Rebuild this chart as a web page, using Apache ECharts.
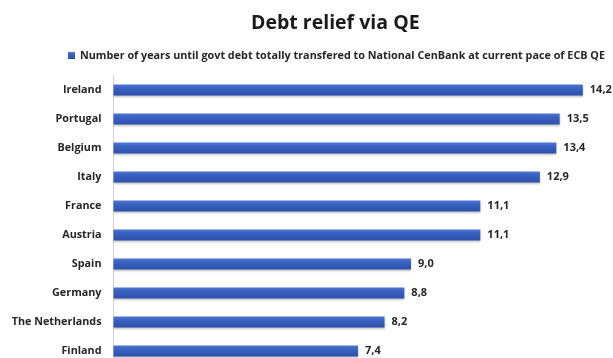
<!DOCTYPE html>
<html>
<head>
<meta charset="utf-8">
<script src="https://cdn.jsdelivr.net/npm/echarts@6/dist/echarts.min.js"></script>
<style>html,body{margin:0;padding:0;background:#fff;overflow:hidden;width:613px;height:358px}#c{width:613px;height:372px}</style>
</head>
<body>
<div id="c"></div>
<script>
const categories = ["Ireland","Portugal","Belgium","Italy","France","Austria","Spain","Germany","The Netherlands","Finland"];
const values = [14.2,13.5,13.4,12.9,11.1,11.1,9.0,8.8,8.2,7.4];
const seriesName = "Number of years until govt debt totally transfered to National CenBank at current pace of ECB QE";
const titleText = "Debt relief via QE";

const FONT = "Open Sans";
const chart = echarts.init(document.getElementById('c'), null, {renderer:'canvas'});
chart.setOption({
  animation:false,
  backgroundColor:'#fff',
  title:{text:titleText,left:246,top:8,
    textStyle:{fontFamily:FONT,fontWeight:'bold',fontSize:19.5,color:'#1a1a1a'}},
  legend:{data:[seriesName],left:63,top:45,icon:'rect',itemWidth:7,itemHeight:7,
    textStyle:{fontFamily:FONT,fontWeight:'bold',fontSize:10.8,color:'#262626'}},
  grid:{left:113.5,top:75.5,height:290,width:495.75},
  xAxis:{type:'value',min:0,max:15,show:false},
  yAxis:{type:'category',data:categories,inverse:true,
    axisLine:{show:true,lineStyle:{color:'#d0d0d0',width:1}},
    axisTick:{show:false},
    axisLabel:{margin:12,fontFamily:FONT,fontWeight:'bold',fontSize:10.8,color:'#262626'}},
  series:[{name:seriesName,type:'bar',data:values,barWidth:11,
    itemStyle:{color:new echarts.graphic.LinearGradient(0,0,0,1,[
      {offset:0,color:'#4d76d0'},{offset:0.3,color:'#3b63c3'},{offset:1,color:'#2d50aa'}]),
      shadowColor:'rgba(0,0,0,0.25)',shadowBlur:2,shadowOffsetY:1},
    label:{show:true,position:'right',distance:7,fontFamily:FONT,fontWeight:'bold',fontSize:11,color:'#262626',
      formatter:p=>p.value.toFixed(1).replace('.',',')}}]
});
</script>
</body>
</html>
